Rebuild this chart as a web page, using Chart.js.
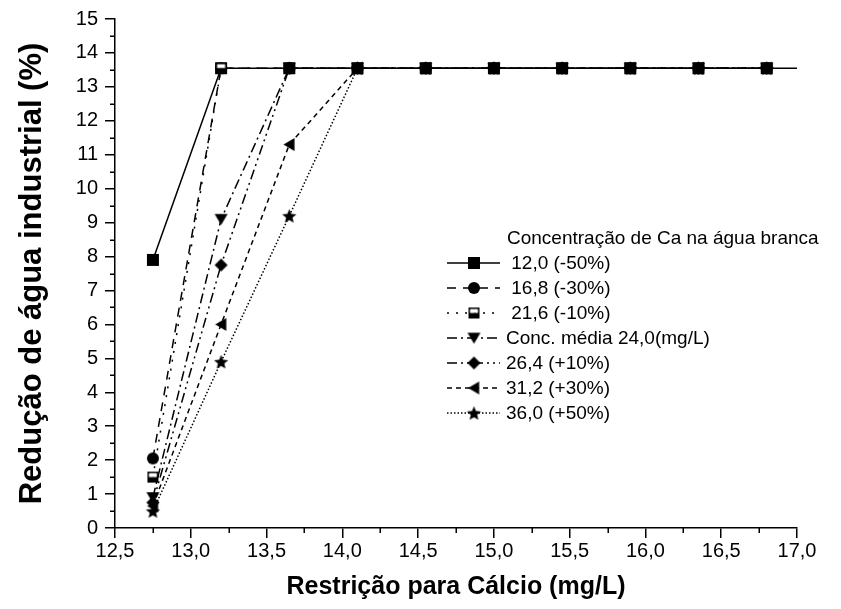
<!DOCTYPE html>
<html>
<head>
<meta charset="utf-8">
<script src="https://cdn.jsdelivr.net/npm/chart.js@4.4.1/dist/chart.umd.min.js"></script>
<style>
  html, body { margin: 0; padding: 0; background: #fff; }
  #wrap { width: 841px; height: 609px; }
</style>
</head>
<body>
<div id="wrap"><canvas id="chart"></canvas></div>
<script>
// restriction values (mg/L) on the x axis
const restricao = [12.75, 13.2, 13.65, 14.1, 14.55, 15.0, 15.45, 15.9, 16.35, 16.8];
// the solid curve runs on past the last point, out to the axis edge
const restricaoSolida = [12.75, 13.2, 13.65, 14.1, 14.55, 15.0, 15.45, 15.9, 16.35, 16.8, 17.25];

// reduction of industrial water (%) for each Ca concentration in white water
const conc120 = [7.9, 13.55, 13.55, 13.55, 13.55, 13.55, 13.55, 13.55, 13.55, 13.55, 13.55];
const conc168 = [2.05, 13.55, 13.55, 13.55, 13.55, 13.55, 13.55, 13.55, 13.55, 13.55];
const conc216 = [1.5, 13.55, 13.55, 13.55, 13.55, 13.55, 13.55, 13.55, 13.55, 13.55];
const conc240 = [0.9, 9.1, 13.55, 13.55, 13.55, 13.55, 13.55, 13.55, 13.55, 13.55];
const conc264 = [0.75, 7.75, 13.55, 13.55, 13.55, 13.55, 13.55, 13.55, 13.55, 13.55];
const conc312 = [0.65, 6.0, 11.3, 13.55, 13.55, 13.55, 13.55, 13.55, 13.55, 13.55];
const conc360 = [0.5, 4.9, 9.2, 13.55, 13.55, 13.55, 13.55, 13.55, 13.55, 13.55];

const legendTitle = "Concentração de Ca na água branca";
const seriesNames = [" 12,0 (-50%)", " 16,8 (-30%)", " 21,6 (-10%)", "Conc. média 24,0(mg/L)",
  "26,4 (+10%)", "31,2 (+30%)", "36,0 (+50%)"];

const yTitle = "Redução de água industrial (%)";
const xTitle = "Restrição para Cálcio (mg/L)";

const SANS = "'Liberation Sans', Arial, sans-serif";

// marker glyphs drawn on small canvases so they can be used as pointStyle
function makeMarker(kind, size) {
  const pad = 2;
  const c = document.createElement("canvas");
  c.width = size + pad * 2;
  c.height = size + pad * 2;
  const g = c.getContext("2d");
  const m = c.width / 2, r = size / 2;
  g.fillStyle = "#000";
  g.strokeStyle = "#000";
  g.lineWidth = 1;
  g.beginPath();
  if (kind === "square") {
    g.rect(m - r, m - r, size, size);
    g.fill();
  } else if (kind === "circle") {
    g.arc(m, m, r, 0, Math.PI * 2);
    g.fill();
  } else if (kind === "half") {
    g.fillStyle = "#fff";
    g.fillRect(m - r, m - r, size, size / 2);
    g.fillStyle = "#000";
    g.fillRect(m - r, m, size, size / 2);
    g.lineWidth = 1.5;
    g.strokeRect(m - r + 0.75, m - r + 0.75, size - 1.5, size - 1.5);
  } else if (kind === "down") {
    g.moveTo(m - r, m - r * 0.8);
    g.lineTo(m + r, m - r * 0.8);
    g.lineTo(m, m + r * 0.9);
    g.closePath();
    g.fill();
  } else if (kind === "diamond") {
    g.moveTo(m, m - r);
    g.lineTo(m + r, m);
    g.lineTo(m, m + r);
    g.lineTo(m - r, m);
    g.closePath();
    g.fill();
  } else if (kind === "left") {
    g.moveTo(m - r * 0.9, m);
    g.lineTo(m + r * 0.8, m - r);
    g.lineTo(m + r * 0.8, m + r);
    g.closePath();
    g.fill();
  } else if (kind === "star") {
    for (let i = 0; i < 10; i++) {
      const a = -Math.PI / 2 + i * Math.PI / 5;
      const rr = i % 2 === 0 ? r : r * 0.45;
      const px = m + rr * Math.cos(a), py = m + 0.8 + rr * Math.sin(a);
      if (i === 0) g.moveTo(px, py); else g.lineTo(px, py);
    }
    g.closePath();
    g.fill();
  }
  return c;
}

const markers = [
  makeMarker("square", 12),
  makeMarker("circle", 12),
  makeMarker("half", 11),
  makeMarker("down", 13),
  makeMarker("diamond", 13),
  makeMarker("left", 13),
  makeMarker("star", 15)
];
const dashes = [[], [9, 7], [2, 7], [10, 4, 2, 4], [10, 4, 2, 4, 2, 4], [5, 4], [1.5, 2]];

function toPoints(xs, ys) {
  return ys.map((y, i) => ({ x: xs[i], y: y }));
}

const seriesData = [
  toPoints(restricaoSolida, conc120),
  toPoints(restricao, conc168),
  toPoints(restricao, conc216),
  toPoints(restricao, conc240),
  toPoints(restricao, conc264),
  toPoints(restricao, conc312),
  toPoints(restricao, conc360)
];

// later series are painted over the earlier ones
const datasets = seriesData.map((pts, i) => ({
  label: seriesNames[i],
  data: pts,
  borderColor: "#000",
  backgroundColor: "#000",
  borderWidth: 1.5,
  borderDash: dashes[i],
  pointStyle: markers[i],
  pointRadius: 6,
  pointHoverRadius: 6,
  order: seriesData.length - i,
  tension: 0
}));

// small ticks between the labelled ones
const minorTicks = {
  id: "minorTicks",
  afterDraw(chart) {
    const ctx = chart.ctx;
    const xs = chart.scales.x, ys = chart.scales.y;
    const area = chart.chartArea;
    ctx.save();
    ctx.strokeStyle = "#000";
    ctx.lineWidth = 1.5;
    ctx.beginPath();
    for (let v = 0.5; v < 15; v += 1) {
      const py = Math.round(ys.getPixelForValue(v)) + 0.25;
      ctx.moveTo(area.left - 5, py);
      ctx.lineTo(area.left, py);
    }
    for (let v = 12.75; v < 17; v += 0.5) {
      const px = Math.round(xs.getPixelForValue(v)) + 0.25;
      ctx.moveTo(px, area.bottom);
      ctx.lineTo(px, area.bottom + 5);
    }
    ctx.stroke();
    ctx.restore();
  }
};

// legend with line samples and markers
const sampleLegend = {
  id: "sampleLegend",
  afterDraw(chart) {
    const ctx = chart.ctx;
    const x0 = 447, x1 = 500, xm = 474, xt = 506;
    const yTitleRow = 239, yFirst = 263, step = 25;
    ctx.save();
    ctx.fillStyle = "#000";
    ctx.font = "19px " + SANS;
    ctx.textBaseline = "middle";
    ctx.textAlign = "left";
    ctx.fillText(legendTitle, xt + 1, yTitleRow);
    seriesNames.forEach((name, i) => {
      const y = yFirst + i * step;
      ctx.strokeStyle = "#000";
      ctx.lineWidth = 1.5;
      ctx.setLineDash(dashes[i]);
      ctx.beginPath();
      ctx.moveTo(x0, y);
      ctx.lineTo(x1, y);
      ctx.stroke();
      ctx.setLineDash([]);
      const mk = markers[i];
      ctx.drawImage(mk, xm - mk.width / 2, y - mk.height / 2);
      ctx.fillText(name, xt, y + 1);
    });
    ctx.restore();
  }
};

Chart.defaults.font.family = SANS;
Chart.defaults.color = "#000";

new Chart(document.getElementById("chart"), {
  type: "line",
  data: { datasets: datasets },
  options: {
    responsive: true,
    maintainAspectRatio: false,
    animation: false,
    layout: { padding: { left: 0, right: 44, top: 17, bottom: 0 } },
    plugins: {
      legend: { display: false },
      tooltip: { enabled: false }
    },
    scales: {
      x: {
        type: "linear",
        min: 12.5,
        max: 17.0,
        afterFit(scale) { scale.height = 81; },
        border: { display: true, color: "#000", width: 1.5 },
        grid: { drawOnChartArea: false, drawTicks: true, tickLength: 10, color: "#000", lineWidth: 1.5 },
        ticks: {
          stepSize: 0.5,
          padding: 1,
          font: { size: 20 },
          maxRotation: 0,
          callback: (v) => v.toFixed(1).replace(".", ",")
        },
        title: {
          display: true,
          text: xTitle,
          font: { size: 25, weight: "bold", family: SANS },
          padding: { top: 0, bottom: 7 }
        }
      },
      y: {
        type: "linear",
        min: 0,
        max: 15,
        afterFit(scale) { scale.width = 115; },
        border: { display: true, color: "#000", width: 1.5 },
        grid: { drawOnChartArea: false, drawTicks: true, tickLength: 10, color: "#000", lineWidth: 1.5 },
        ticks: {
          stepSize: 1,
          padding: 7,
          font: { size: 20 }
        },
        title: {
          display: true,
          text: yTitle,
          font: { size: 31, weight: "bold", family: SANS },
          padding: { top: 14, bottom: 0 }
        }
      }
    }
  },
  plugins: [minorTicks, sampleLegend]
});
</script>
</body>
</html>
